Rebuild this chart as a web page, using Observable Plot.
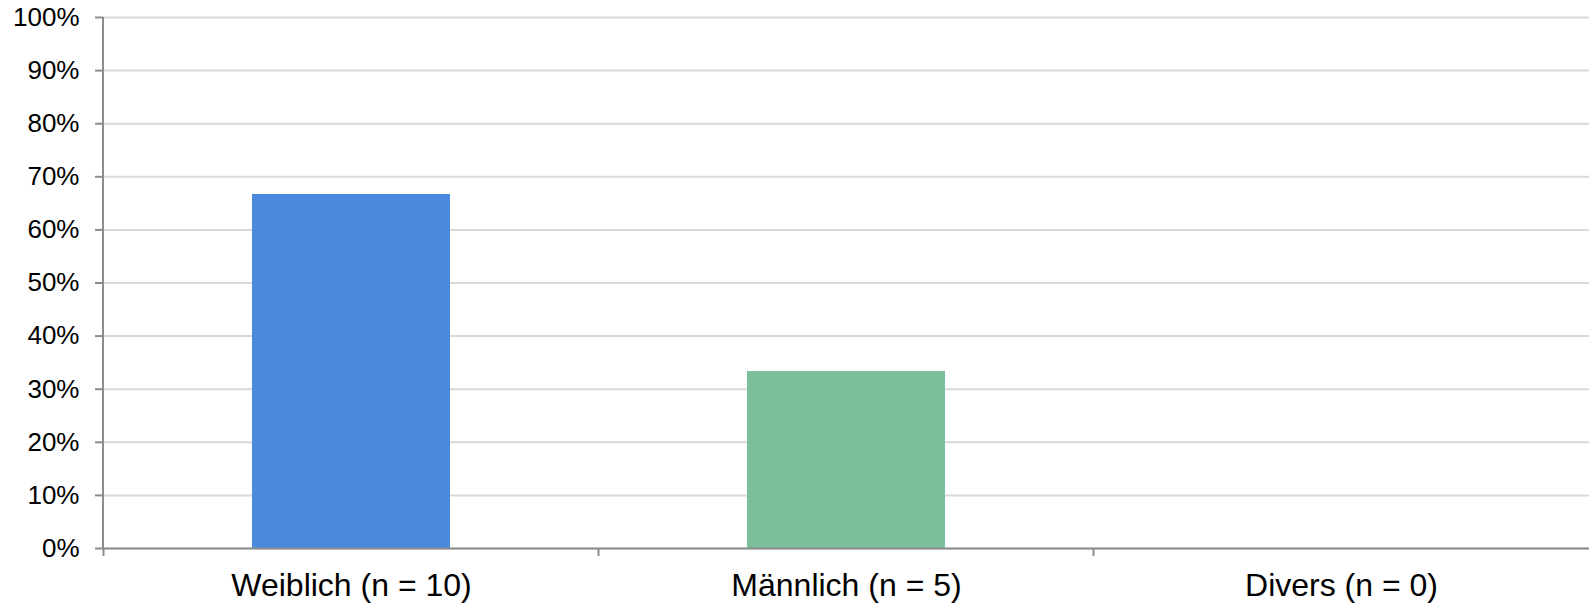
<!DOCTYPE html>
<html>
<head>
<meta charset="utf-8">
<script src="https://cdn.jsdelivr.net/npm/d3@7"></script>
<script src="https://cdn.jsdelivr.net/npm/@observablehq/plot@0.6"></script>
<style>
  html, body { margin: 0; padding: 0; background: #ffffff; }
  #chart svg { display: block; }
</style>
</head>
<body>
<div id="chart"></div>
<script>
const categories = ["Weiblich (n = 10)", "Männlich (n = 5)", "Divers (n = 0)"];
const shares = [66.67, 33.33, 0];
const barColors = ["#4a89dc", "#7bbf9a", "#a5a5a5"];
const yTicks = [0, 10, 20, 30, 40, 50, 60, 70, 80, 90, 100];

const data = categories.map((c, i) => ({category: c, share: shares[i]}));
const axisColor = "#8c8c8c";

function axisLines(index, scales, values, dimensions) {
  const x = scales.x;
  const y = scales.y;
  const bw = x.bandwidth ? x.bandwidth() : 0;
  const step = x.step ? x.step() : bw;
  const y0 = y(0);
  const g = d3.create("svg:g").attr("stroke", axisColor).attr("stroke-width", 2);
  // category boundary ticks
  categories.forEach(c => {
    const xb = x(c) - (step - bw) / 2;
    g.append("line").attr("x1", xb).attr("x2", xb).attr("y1", y0).attr("y2", y0 + 8);
  });
  // vertical axis line
  const xl = dimensions.marginLeft;
  g.append("line").attr("x1", xl).attr("x2", xl).attr("y1", y(100)).attr("y2", y0);
  return g.node();
}

const chart = Plot.plot({
  width: 1589,
  height: 606,
  marginLeft: 103,
  marginRight: 0,
  marginTop: 17,
  marginBottom: 58,
  style: {fontFamily: "'Liberation Sans', Arial, sans-serif", background: "#ffffff", color: "#000000"},
  x: {domain: categories, paddingInner: 0.6, paddingOuter: 0.3, label: null},
  y: {domain: [0, 100], label: null},
  color: {domain: categories, range: barColors},
  marks: [
    Plot.gridY(yTicks, {stroke: "#d9d9d9", strokeOpacity: 1, strokeWidth: 2}),
    Plot.barY(data, {x: "category", y: "share", fill: "category"}),
    Plot.ruleY([0], {stroke: axisColor, strokeWidth: 2}),
    Plot.axisY(yTicks, {tickFormat: d => d + "%", tickSize: 8, tickPadding: 16, fontSize: 26, stroke: axisColor, strokeWidth: 2, fill: "#000000", label: null}),
    Plot.axisX({tickSize: 0, tickPadding: 25, fontSize: 32, fill: "#000000", label: null}),
    axisLines
  ]
});
document.getElementById("chart").appendChild(chart);
</script>
</body>
</html>
